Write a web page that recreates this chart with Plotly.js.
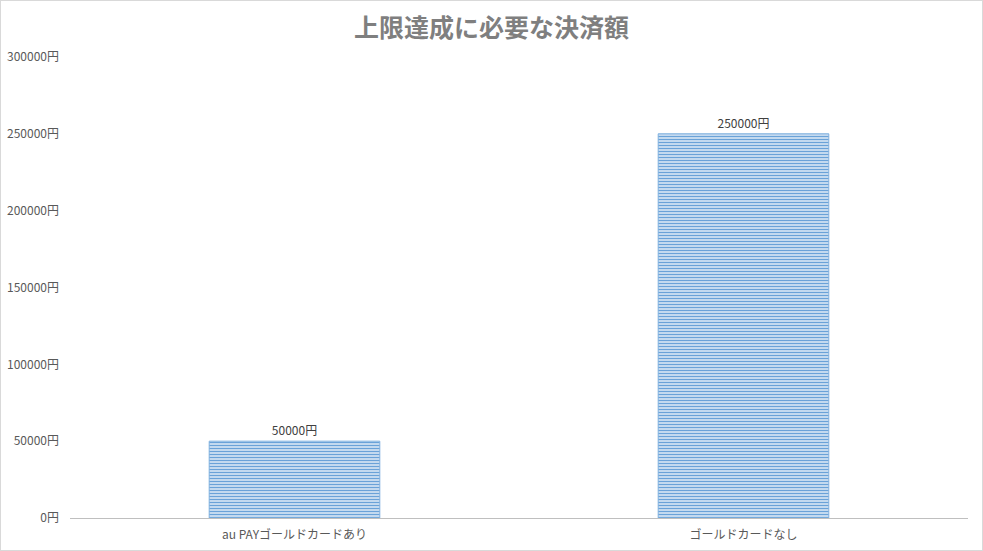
<!DOCTYPE html>
<html>
<head>
<meta charset="utf-8">
<script src="https://cdn.plot.ly/plotly-3.0.1.min.js"></script>
<style>
  html, body { margin: 0; padding: 0; background: #fff; }
  #chart { width: 983px; height: 551px; box-sizing: border-box; border: 1px solid #d9d9d9; }
</style>
</head>
<body>
<div id="chart"></div>
<script>
var categories = ['au PAYゴールドカードあり', 'ゴールドカードなし'];
var amounts = [50000, 250000];
var tickValues = [0, 50000, 100000, 150000, 200000, 250000, 300000];
var tickLabels = ['0円', '50000円', '100000円', '150000円', '200000円', '250000円', '300000円'];
var barLabels = ['50000円', '250000円'];

var font = '"Noto Sans CJK JP", "Noto Sans", sans-serif';

var trace = {
    x: categories,
    y: amounts,
    type: 'bar',
    text: barLabels,
    textposition: 'outside',
    cliponaxis: false,
    textfont: {family: font, size: 12, color: '#404040'},
    marker: {
        color: '#ffffff',
        line: {color: '#7fb0df', width: 1},
        pattern: {shape: '-', fgcolor: '#6aa2d8', bgcolor: '#ffffff', size: 3, solidity: 0.6}
    },
    hoverinfo: 'none'
};

var layout = {
    width: 981,
    height: 549,
    margin: {l: 69, r: 14, t: 56, b: 32},
    paper_bgcolor: '#ffffff',
    plot_bgcolor: '#ffffff',
    bargap: 0.62,
    showlegend: false,
    font: {family: font, size: 12, color: '#595959'},
    title: {
        text: '<b>上限達成に必要な決済額</b>',
        x: 0.5,
        xanchor: 'center',
        y: 0.95,
        yanchor: 'middle',
        font: {family: font, size: 25, color: '#7f7f7f'}
    },
    xaxis: {
        showgrid: false,
        showline: true,
        linecolor: '#bfbfbf',
        linewidth: 1,
        ticks: '',
        ticklabelstandoff: 6,
        tickfont: {family: font, size: 12, color: '#595959'}
    },
    yaxis: {
        range: [0, 300000],
        tickvals: tickValues,
        ticktext: tickLabels,
        showgrid: false,
        zeroline: false,
        showline: false,
        ticks: '',
        ticklabelstandoff: 10,
        tickfont: {family: font, size: 12, color: '#595959'}
    }
};

Plotly.newPlot('chart', [trace], layout, {displayModeBar: false, staticPlot: true});
</script>
</body>
</html>
